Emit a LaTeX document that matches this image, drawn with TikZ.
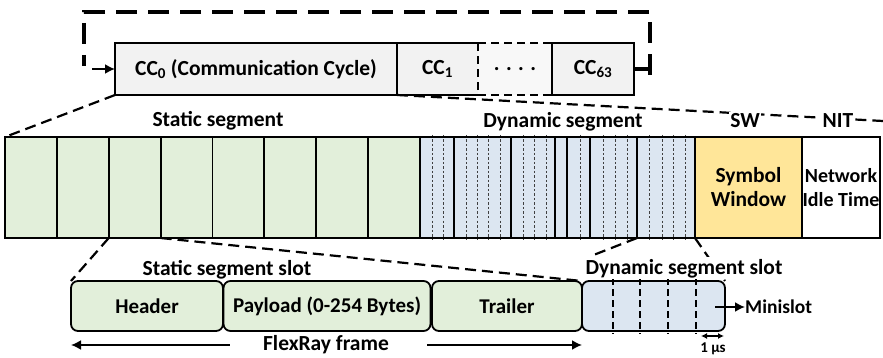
\documentclass[tikz,border=0pt]{standalone}
\usepackage{fontspec}
\setmainfont{Carlito}
\usetikzlibrary{arrows.meta,calc}
\definecolor{ccgray}{HTML}{F2F2F2}
\definecolor{stgreen}{HTML}{E2EFDA}
\definecolor{dynblue}{HTML}{DCE6F1}
\definecolor{swyellow}{HTML}{FFE699}
\begin{document}
\begin{tikzpicture}[x=1pt,y=-1pt,
  font=\bfseries\fontsize{21.5}{24}\selectfont,
  box/.style={draw, line width=1.8pt, inner sep=0pt, outer sep=0pt},
  ccbox/.style={box, fill=ccgray, minimum height=52pt},
  barbox/.style={box, minimum height=101pt},
  frbox/.style={box, rounded corners=7pt, minimum height=50pt, font=\bfseries\fontsize{21}{24}\selectfont},
  zoomline/.style={dashed, line width=2.2pt, dash pattern=on 11pt off 6pt},
  loopline/.style={line width=3.8pt, dash pattern=on 21pt off 11pt},
  minidiv/.style={line width=0.8pt, dash pattern=on 2.5pt off 2pt, black!75},
  slotdiv/.style={line width=1.8pt},
  frdiv/.style={line width=1.8pt, dash pattern=on 7pt off 4pt},
  tip/.style={line width=1.8pt, -{Latex[length=10pt,width=10pt]}},
  lbl/.style={fill=white, inner sep=1.5pt, anchor=base}]

\useasboundingbox (0,0) rectangle (883,358);

% ---------- communication cycles ----------
\node[ccbox] (cc0) at (256,69) [minimum width=282pt] {CC\textsubscript{0} (Communication Cycle)};
\node[fill=ccgray, inner sep=0pt, outer sep=0pt, minimum height=52pt, minimum width=81pt] (cc1) at (437.5,69) {CC\textsubscript{1}};
\node[fill=ccgray!50, inner sep=0pt, outer sep=0pt, minimum height=52pt, minimum width=74pt] (ccdots) at (515,69) {. . . .};
\node[ccbox] (cc63) at (593,69) [minimum width=82pt] {CC\textsubscript{63}};
\draw[line width=1.8pt] (cc1.north east) -- (cc1.north west) -- (cc1.south west) -- (cc1.south east);
\draw[line width=1.8pt, dash pattern=on 8pt off 5pt] (cc1.north east) -- (cc1.south east);
\draw[line width=1.8pt, dash pattern=on 8pt off 5pt] (ccdots.north west) -- (ccdots.north east);
\draw[line width=1.8pt, dash pattern=on 8pt off 5pt] (ccdots.south west) -- (ccdots.south east);

% repetition loop
\coordinate (loopR) at (650,69);
\coordinate (loopRT) at (650,12);
\coordinate (loopLT) at (84,12);
\coordinate (loopL) at (84,66);
\coordinate (loopA) at (92,69);
\draw[line width=3.8pt] (cc63.east) -- (loopR);
\draw[loopline] ([yshift=-6pt]loopR) -- (loopRT) -- (loopLT) -- (loopL);
\draw[tip] (loopA) -- (cc0.west);

% ---------- cycle segments ----------
\foreach \i in {1,...,8}
  \node[barbox, fill=stgreen, minimum width=51.875pt] (s\i) at ({5+51.875*(\i-0.5)},187.5) {};
\node[barbox, fill=dynblue, minimum width=275pt] (dyn) at (557.5,187.5) {};
\node[barbox, fill=swyellow, minimum width=107pt, align=center] (sw) at (748.5,187.5) {Symbol\\Window};
\node[barbox, fill=white, minimum width=78pt, align=center, font=\bfseries\fontsize{20}{24}\selectfont] (nit) at (841,187.5) {Network\\Idle Time};

% minislots and dynamic slots
\foreach \x in {432,443,466,477,488,500,523,534,546,580,603,615,627,649,662,673,685}
  \draw[minidiv] ([yshift=2pt]\x,0 |- dyn.north) -- ([yshift=-2pt]\x,0 |- dyn.south);
\foreach \x in {454,511,555,567,590,637}
  \draw[slotdiv] (\x,0 |- dyn.north) -- (\x,0 |- dyn.south);
\draw[line width=1.8pt] (s1.north west) -- (nit.north east);
\draw[line width=1.8pt] (s1.south west) -- (nit.south east);

% zoom lines from the cycle
\coordinate (zoomR) at (883,121);
\draw[zoomline] (cc0.south west) -- (s1.north west);
\draw[zoomline] (cc1.south west) -- (zoomR);

\node[lbl] (lstat) at (218,127) {Static segment};
\node[lbl] (ldyn) at (563,128) {Dynamic segment};
\node[lbl] (lsw) at (745,128) {SW};
\node[lbl] (lnit) at (838,128) {NIT};

% ---------- frame ----------
\node[frbox, fill=stgreen, minimum width=152pt] (hdr) at (147,306) {Header};
\node[frbox, fill=stgreen, minimum width=207pt] (pay) at (327,306) {Payload (0-254 Bytes)};
\node[frbox, fill=stgreen, minimum width=150pt] (trl) at (507,306) {Trailer};
\node[frbox, fill=dynblue, minimum width=143pt] (dslot) at (653.5,306) {};
\foreach \x in {613,640,668,696}
  \draw[frdiv] ([yshift=3pt]\x,0 |- dslot.north) -- ([yshift=-3pt]\x,0 |- dslot.south);

% zoom lines from the segments
\coordinate (dynA) at (637,238);
\coordinate (dynB) at (591,256);
\draw[zoomline] (s3.south west) -- (hdr.north west);
\draw[zoomline] (s3.south east) -- (trl.north east);
\draw[zoomline] (dynA) -- (dynB);
\draw[zoomline] (dyn.south east) -- (dslot.north east);

\node[lbl] (lsslot) at (227,275) {Static segment slot};
\node[lbl] (ldslot) at (684,274) {Dynamic segment slot};

% minislot callout
\coordinate (msA) at (715,307);
\node[anchor=west, inner sep=0pt, font=\bfseries\fontsize{19.5}{22}\selectfont] (ms) at (745,307) {Minislot};
\draw[tip] (msA) -- (ms.west);

% 1 us duration
\coordinate (usL) at (701,336);
\coordinate (usR) at (724,336);
\draw[line width=1.3pt, {Latex[length=6pt,width=6pt]}-{Latex[length=6pt,width=6pt]}] (usL) -- (usR);
\node[anchor=base, inner sep=0pt, font=\bfseries\fontsize{15}{17}\selectfont] (us) at (713,352) {1 µs};

% frame extent
\node[anchor=base, inner sep=0pt] (lfr) at (326,350) {FlexRay frame};
\coordinate (frL) at (71,345);
\coordinate (frR) at (582,345);
\draw[tip] ([xshift=-33pt]lfr.west |- frL) -- (frL);
\draw[tip] ([xshift=38pt]lfr.east |- frR) -- (frR);
\end{tikzpicture}
\end{document}
